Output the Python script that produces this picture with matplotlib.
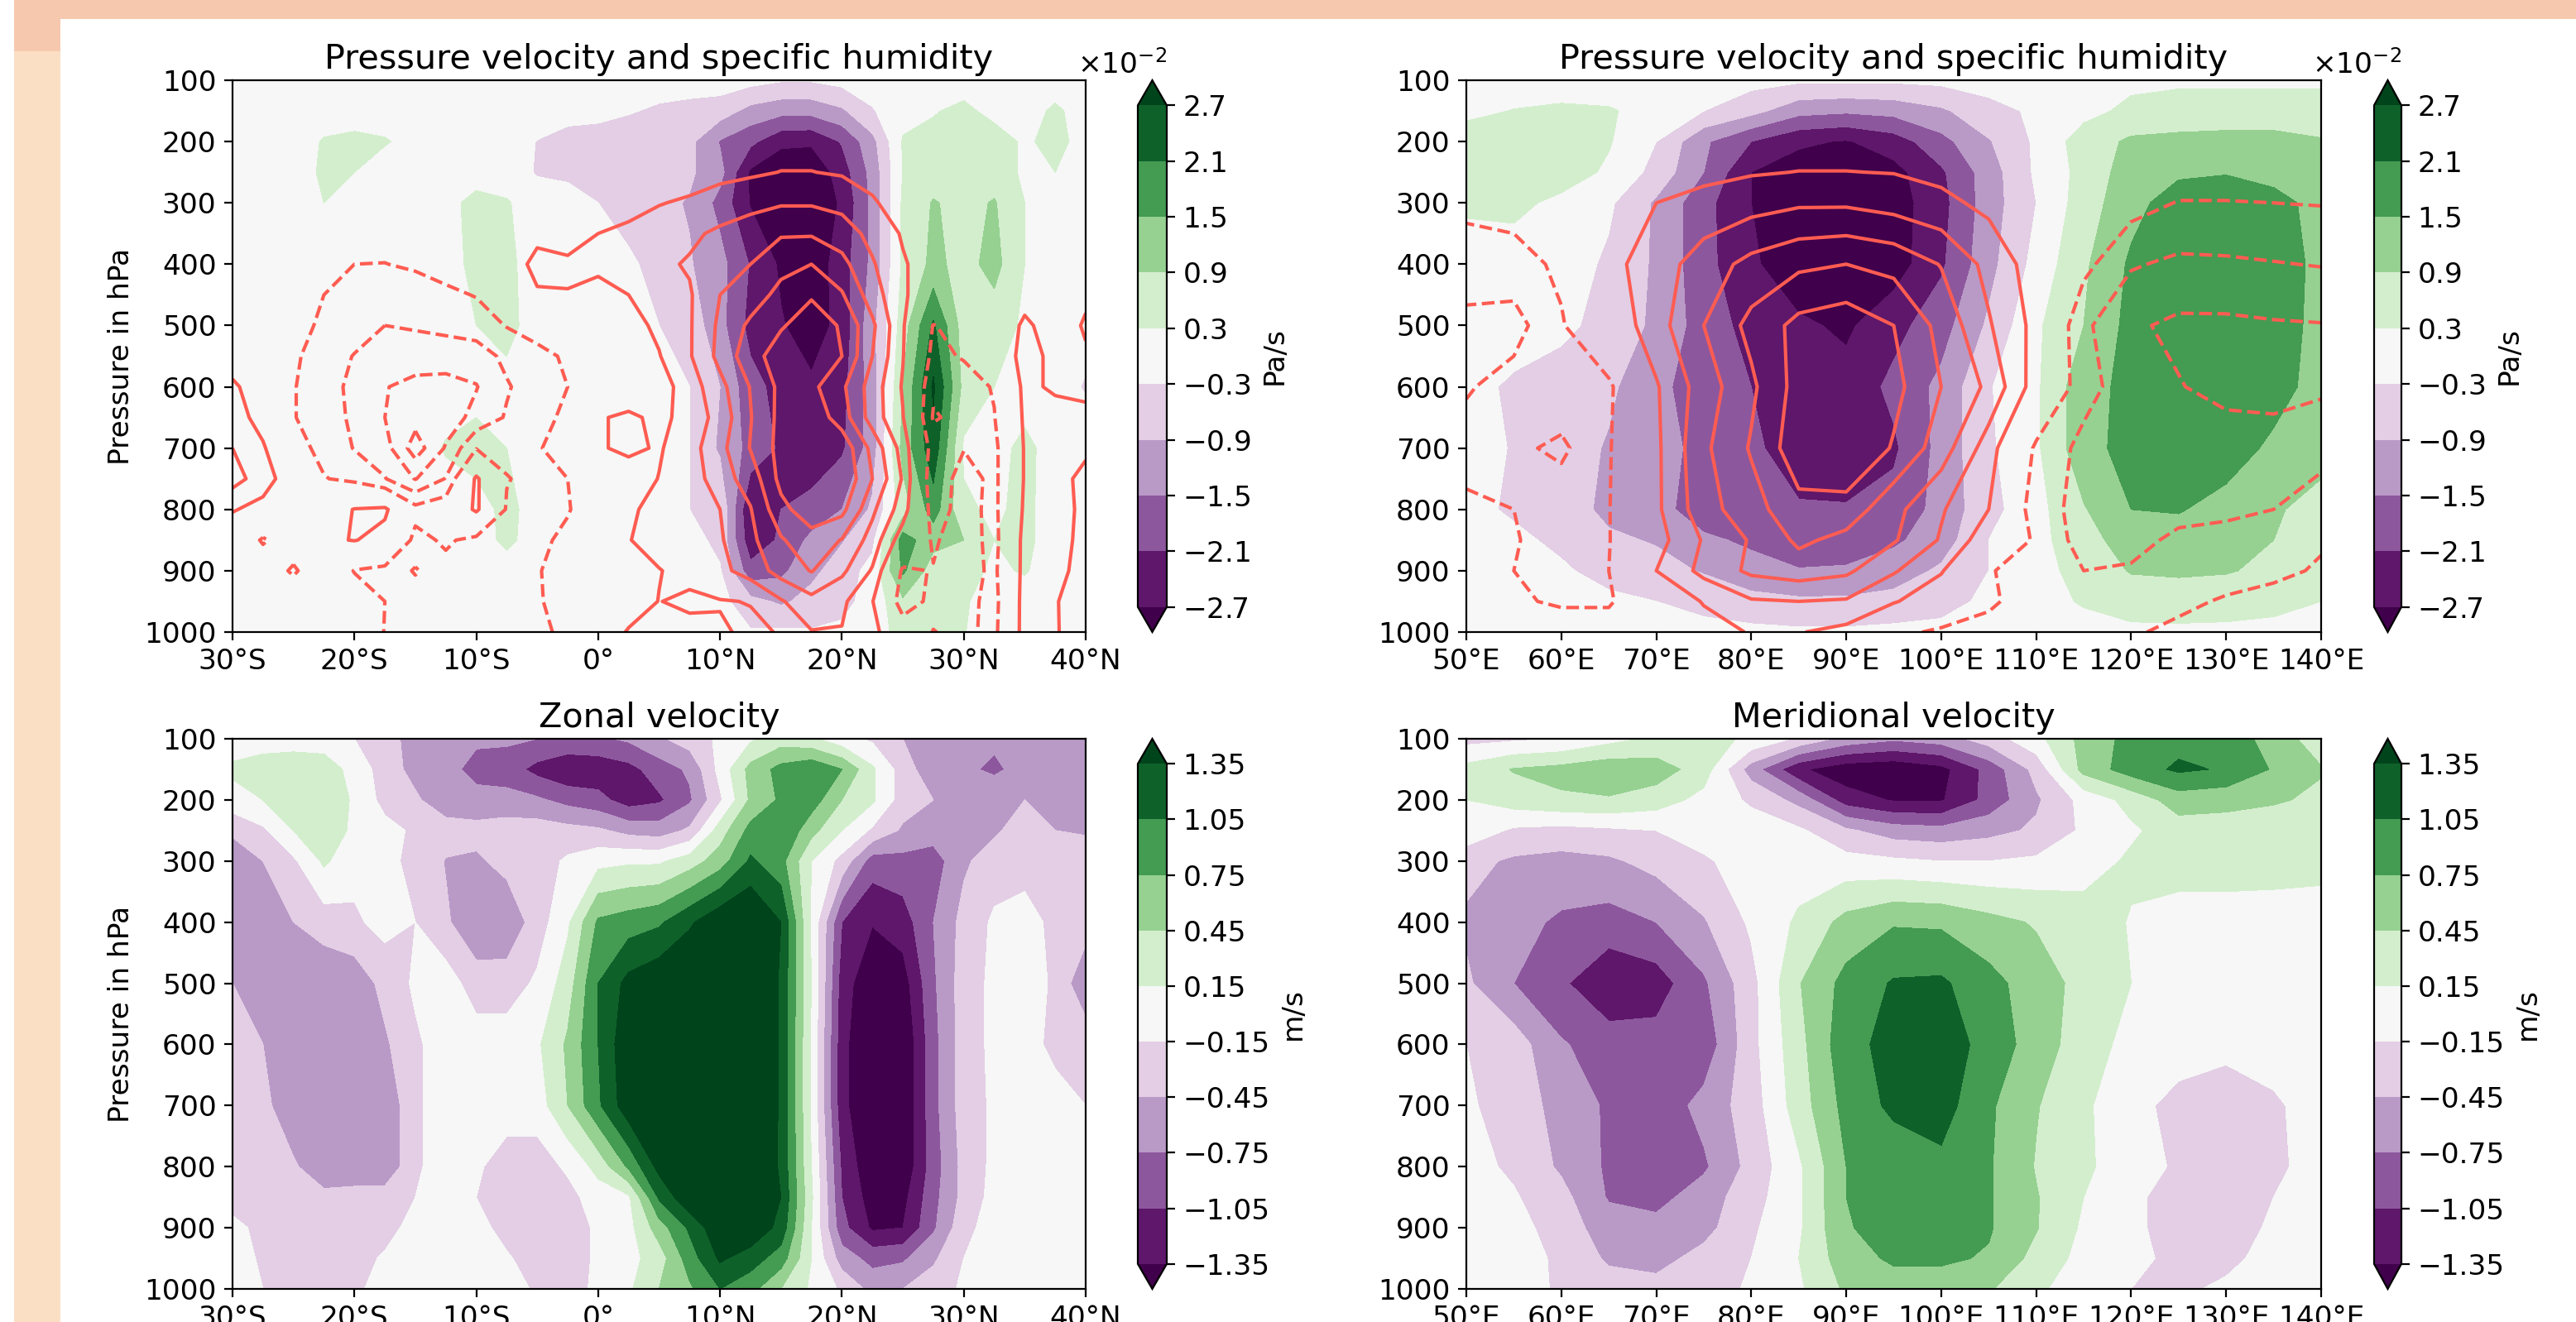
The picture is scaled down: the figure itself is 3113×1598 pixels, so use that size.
import numpy as np
import matplotlib
matplotlib.use("Agg")
import matplotlib.pyplot as plt
from matplotlib.patches import Rectangle
from matplotlib.ticker import ScalarFormatter

W, H = 3113, 1598

lat = [-30, -27.5, -25, -22.5, -20, -17.5, -15, -12.5, -10, -7.5, -5, -2.5, 0, 2.5, 5, 7.5, 10,
       12.5, 15, 17.5, 20, 22.5, 25, 27.5, 30, 32.5, 35, 37.5, 40]
lon = [50, 55, 60, 65, 70, 75, 80, 85, 90, 95, 100, 105, 110, 115, 120, 125, 130, 135, 140]
plev = [100, 150, 200, 250, 300, 400, 500, 600, 700, 800, 850, 900, 950, 1000]
plev_q = [100, 200, 250, 300, 350, 400, 450, 500, 550, 600, 650, 700, 750, 800, 850, 900, 950, 1000]

lat_ticks = [-30, -20, -10, 0, 10, 20, 30, 40]
lat_labels = ["30°S", "20°S", "10°S", "0°", "10°N", "20°N", "30°N", "40°N"]
lon_ticks = [50, 60, 70, 80, 90, 100, 110, 120, 130, 140]
lon_labels = ["50°E", "60°E", "70°E", "80°E", "90°E", "100°E", "110°E", "120°E", "130°E", "140°E"]
p_ticks = [100, 200, 300, 400, 500, 600, 700, 800, 900, 1000]

omega_levels = [-2.7e-2, -2.1e-2, -1.5e-2, -0.9e-2, -0.3e-2, 0.3e-2, 0.9e-2, 1.5e-2, 2.1e-2, 2.7e-2]
wind_levels = [-1.35, -1.05, -0.75, -0.45, -0.15, 0.15, 0.45, 0.75, 1.05, 1.35]
q_levels = [-4, -3, -2, -1, 1, 2, 3, 4, 5]

# pressure velocity along the latitude section, in 1e-2 Pa/s
omega_lat = [
    [0, 0, 0, 0, 0, 0, 0, 0, 0, 0, 0, 0, 0, 0, 0, 0, 0, -.1, -.25, -.25, -.1, 0, 0, 0, 0, 0, 0, 0, 0],
    [0, 0, 0, 0, 0, 0, 0, 0, 0, 0, 0, -.05, -.1, -.25, -.4, -.5, -.6, -1.1, -1.3, -1.3, -1.0, -.35, .1, .25, .45, .1, .05, .4, .05],
    [0, 0, 0, .35, .45, .35, .1, 0, 0, 0, -.32, -.55, -.6, -.65, -.7, -.75, -1.55, -1.95, -2.55, -2.6, -2.05, -1.1, .35, .5, .55, .6, .2, .5, .05],
    [0, 0, 0, .4, .3, 0, 0, 0, 0, 0, -.35, -.4, -.45, -.65, -.75, -.8, -1.3, -2.8, -3.2, -3.2, -2.4, -1.3, .32, .55, .6, .6, .2, .3, .05],
    [0, 0, 0, .3, 0, 0, 0, .1, .5, .35, 0, -.1, -.3, -.55, -.75, -.95, -1.7, -2.75, -3.2, -3.3, -2.6, -1.35, .4, .95, .7, .95, .3, 0, 0],
    [0, 0, 0, 0, 0, 0, 0, 0, .5, .45, 0, 0, -.05, -.2, -.5, -.85, -1.3, -2.15, -2.8, -3.1, -2.4, -1.35, .4, 1.05, .7, 1.1, .3, .05, 0],
    [0, 0, 0, 0, 0, 0, 0, 0, .3, .5, 0, 0, 0, -.1, -.3, -.55, -1.3, -2.3, -2.65, -3.0, -2.5, -1.1, .6, 2.2, .6, .6, .2, 0, -.1],
    [0, 0, 0, 0, 0, 0, 0, 0, 0, .1, 0, 0, 0, 0, -.1, -.3, -.9, -1.9, -2.3, -2.6, -2.3, -1.2, .9, 2.8, .7, .3, 0, -.05, -.35],
    [0, 0, 0, 0, 0, 0, 0, .35, .6, .3, 0, 0, 0, 0, -.1, -.3, -1.0, -1.7, -2.2, -2.5, -2.2, -1.2, 1.1, 2.5, .2, .1, .45, .05, 0],
    [0, 0, 0, 0, 0, 0, 0, 0, 0, .5, 0, 0, 0, 0, -.05, -.3, -.35, -2.7, -2.1, -1.9, -1.5, -.8, .6, 1.8, .4, .2, .45, 0, 0],
    [0, 0, 0, 0, 0, 0, 0, 0, 0, .45, 0, 0, 0, 0, 0, -.1, -.45, -2.5, -2.0, -1.35, -.95, -.45, 1.8, 1.1, .9, .3, .45, 0, 0],
    [0, 0, 0, 0, 0, 0, 0, 0, 0, 0, 0, 0, 0, 0, 0, 0, -.25, -1.9, -1.65, -1.05, -.6, -.1, 1.6, .6, .5, .2, .35, 0, 0],
    [0, 0, 0, 0, 0, 0, 0, 0, 0, 0, 0, 0, 0, 0, 0, 0, -.1, -.7, -1.0, -.7, -.45, -.1, .8, .5, .35, .1, 0, 0, 0],
    [0, 0, 0, 0, 0, 0, 0, 0, 0, 0, 0, 0, 0, 0, 0, 0, 0, -.25, -.2, -.25, -.2, .1, .45, .4, .32, .05, 0, 0, 0],
]

# specific humidity along the latitude section
q_lat = [
    [0] * 29,
    [0, 0, 0, 0, 0, 0, 0, 0, 0, 0, 0, 0, 0, .1, .15, .2, .3, .45, .6, .6, .45, .3, .1, 0, 0, 0, 0, 0, 0],
    [0, 0, 0, 0, 0, 0, 0, 0, 0, 0, 0, 0, .1, .2, .3, .5, .75, .85, 1.02, 1.02, .9, .7, .3, .1, 0, 0, 0, 0, 0],
    [0, 0, 0, 0, 0, 0, 0, 0, 0, 0, 0, .05, .2, .6, .95, 1.15, 1.4, 1.7, 1.9, 1.9, 1.7, 1.1, .6, .2, 0, 0, 0, 0, 0],
    [0, -.1, -.2, -.4, -.6, -.6, -.5, -.4, -.2, 0, .65, .5, 1.0, 1.25, 1.5, 1.8, 2.2, 2.5, 2.9, 2.9, 2.5, 1.7, .9, .4, 0, 0, 0, 0, 0],
    [0, -.2, -.4, -.8, -1.0, -1.02, -.85, -.6, -.3, .2, 1.4, 1.2, 1.3, 1.5, 1.8, 2.1, 2.5, 3.0, 3.7, 4.0, 3.3, 2.1, 1.1, .5, 0, 0, 0, 0, 0],
    [0, .3, -.2, -1.0, -1.3, -1.4, -1.5, -1.2, -.95, -.4, .85, .95, .55, 1.0, 1.4, 1.9, 3.0, 3.5, 4.3, 4.9, 4.1, 2.5, 1.1, .5, 0, 0, .6, .4, .85],
    [0, .2, -.6, -1.2, -1.5, -2.0, -1.9, -1.7, -1.5, -.95, -.7, -.5, -.1, .65, 1.2, 1.9, 3.2, 4.2, 4.9, 5.5, 4.9, 3.2, 1.1, -1.05, -.6, .1, 1.2, .5, 1.1],
    [.1, -.3, -.85, -1.45, -2.05, -2.3, -2.5, -2.6, -2.5, -1.75, -1.2, -.9, -.2, .4, .95, 1.9, 3.3, 4.6, 5.5, 5.9, 5.0, 3.0, 1.05, -1.3, -.9, .3, 1.3, .8, .9],
    [1.3, 0, -.95, -1.5, -2.3, -2.95, -3.3, -3.3, -3.05, -2.1, -1.45, -1.0, -.2, .2, .55, 1.5, 2.7, 4.05, 5.25, 5.25, 4.2, 2.55, .9, -1.8, -1.55, -.9, 1.3, .8, .8],
    [1.6, .5, -.95, -1.5, -2.2, -3.0, -3.6, -3.5, -2.7, -1.9, -1.4, -.75, .9, 1.2, .75, 1.35, 2.4, 3.95, 5.3, 5.7, 4.5, 2.55, 1.05, -2.1, -1.7, -1.05, 1.2, 1.5, 1.2],
    [2.0, 1.15, -.6, -1.3, -2.05, -2.6, -4.5, -2.9, -1.05, -1.3, -1.1, -.5, .9, 1.2, .9, 1.6, 2.7, 4.05, 5.35, 6.0, 5.7, 3.7, 1.6, -1.5, -1.05, -1.3, 1.1, 1.1, 1.1],
    [2.4, 1.5, .3, -.95, -1.25, -1.95, -3.05, -1.95, 1.2, -.95, -1.3, -1.0, .1, .5, 1.03, 1.4, 2.6, 3.4, 5.3, 6.0, 5.9, 4.0, 1.9, -1.8, -.5, -1.3, 1.1, 1.2, .85],
    [1.08, .65, .2, .3, 1.05, 1.2, -.65, -.3, 1.2, -1.1, -1.5, -1.1, -.1, .75, 1.5, 1.8, 2.0, 2.95, 4.7, 5.6, 5.3, 3.2, 1.5, -1.5, -.6, -1.3, 1.2, 1.35, .8],
    [.2, -1.15, -.2, .8, 1.05, .6, -1.3, -.85, -1.3, -1.3, -1.3, -.7, 0, .95, 1.5, 1.6, 1.9, 2.75, 3.9, 4.6, 3.95, 2.6, .4, -1.15, -.4, -1.4, 1.4, 1.4, .7],
    [.1, -.1, -1.2, .1, -1.05, -1.3, -2.1, -1.3, -1.3, -1.3, -1.1, -.4, 0, .6, .95, 1.4, 1.75, 2.4, 3.4, 4.05, 3.2, 1.9, -1.2, -.95, -.5, -1.25, 1.4, 1.4, .5],
    [0, 0, 0, 0, -.4, -1.0, -1.4, -1.3, -1.2, -1.2, -1.15, -.4, .2, .4, 1.03, .75, .95, 1.03, 1.9, 2.7, 2.2, 1.05, -1.6, -.7, -.6, -1.4, 1.5, 1.05, .6],
    [0, 0, 0, 0, -.5, -1.02, -1.2, -1.2, -1.2, -1.2, -1.2, -.8, .2, 1.1, 1.4, 1.4, 1.1, .85, 1.05, 1.95, 1.95, 1.4, -.3, -1.03, -.75, -1.3, 1.5, 1.03, .8],
]

# pressure velocity along the longitude section, in 1e-2 Pa/s
omega_lon = [
    [0, 0, 0, 0, 0, -.05, -.1, -.2, -.2, -.2, -.15, -.05, 0, .05, .15, .2, .2, .2, .2],
    [.15, .32, .4, .35, .1, -.3, -.7, -1.3, -1.4, -1.3, -1.0, -.5, -.2, .1, .45, .55, .55, .55, .55],
    [.6, .7, .6, .35, -.3, -1.4, -2.1, -2.6, -2.75, -2.4, -1.7, -.95, -.2, .6, 1.0, 1.05, 1.1, 1.1, .95],
    [.7, .75, .6, .2, -.5, -1.5, -2.7, -3.0, -3.2, -2.9, -2.2, -1.2, -.2, .5, 1.2, 1.4, 1.45, 1.3, 1.2],
    [.4, .45, .15, -.2, -1.0, -1.9, -2.7, -3.2, -3.3, -3.0, -2.3, -1.2, -.3, .6, 1.3, 1.8, 2.0, 1.7, 1.3],
    [0, 0, 0, -.4, -1.0, -1.9, -2.6, -3.1, -3.2, -3.0, -2.2, -1.1, -.1, .8, 1.6, 2.0, 2.05, 1.9, 1.3],
    [0, 0, -.1, -.6, -1.0, -1.8, -2.3, -2.6, -2.8, -2.3, -1.75, -.8, .2, .9, 1.7, 2.0, 2.05, 1.9, 1.25],
    [-.1, -.4, -.7, -.8, -1.3, -1.9, -2.1, -2.4, -2.5, -1.95, -1.35, -.35, .2, 1.3, 1.65, 1.95, 2.0, 1.8, 1.2],
    [0, -.35, -.65, -.95, -1.25, -1.7, -2.0, -2.35, -2.5, -2.2, -1.3, -.4, .2, 1.3, 1.7, 1.9, 1.85, 1.35, 1.05],
    [-.1, -.4, -.6, -1.05, -1.3, -1.8, -2.0, -2.05, -2.05, -1.9, -1.3, -.5, .1, .85, 1.5, 1.55, 1.25, .95, .75],
    [0, -.15, -.45, -.8, -.95, -1.4, -1.6, -2.0, -1.95, -1.6, -1.2, -.3, .1, .7, 1.15, 1.2, 1.1, .9, .55],
    [0, 0, -.2, -.55, -.7, -.95, -1.3, -1.45, -1.4, -1.2, -.8, -.3, .15, .45, .95, 1.0, .95, .75, .5],
    [0, 0, 0, -.15, -.3, -.5, -.7, -.8, -.8, -.7, -.55, -.15, .1, .35, .5, .55, .5, .4, .3],
    [0, 0, 0, 0, 0, -.1, -.15, -.2, -.2, -.15, -.1, 0, 0, .1, .2, .2, .2, .2, .2],
]

# specific humidity along the longitude section
q_lon = [
    [0] * 19,
    [0, 0, 0, 0, .05, .1, .15, .2, .2, .2, .15, .1, .05, 0, -.05, -.05, -.05, -.05, -.05],
    [-.2, -.2, -.1, 0, .15, .3, .45, .55, .55, .5, .4, .25, .1, 0, -.1, -.15, -.15, -.15, -.15],
    [-.6, -.5, -.3, 0, .2, .75, .92, 1.02, 1.02, .97, .75, .5, .2, -.1, -.3, -.4, -.4, -.4, -.4],
    [-.7, -.6, -.3, .3, 1.0, 1.3, 1.6, 1.85, 1.85, 1.6, 1.25, .75, .35, 0, -.6, -1.05, -1.05, -1.0, -.95],
    [-1.6, -1.4, -.8, .7, 1.5, 2.5, 3.3, 3.8, 4.0, 3.7, 2.95, 1.7, .5, -.7, -1.9, -2.2, -2.15, -2.05, -1.95],
    [-2.2, -2.4, -1.1, .2, 1.6, 3.0, 4.3, 5.3, 5.6, 5.0, 3.7, 2.1, .7, -1.8, -2.85, -3.2, -3.2, -3.1, -3.05],
    [-2.1, -1.6, -1.3, -1.2, .9, 2.5, 3.8, 5.4, 5.9, 5.3, 4.0, 2.8, .5, -1.6, -2.6, -2.95, -3.3, -3.4, -3.2],
    [-1.6, -1.8, -2.2, -1.1, .8, 2.8, 4.1, 5.6, 6.0, 4.9, 3.5, 1.5, -1.2, -2.3, -2.3, -2.4, -2.5, -2.5, -2.2],
    [-.7, -1.0, -1.4, -1.05, .8, 2.6, 3.6, 4.7, 4.6, 3.3, 2.1, 1.0, -1.6, -2.3, -2.3, -2.3, -2.25, -2.0, -1.7],
    [-.6, -.95, -1.3, -1.05, .6, 2.1, 3.1, 4.2, 3.7, 3.1, 1.9, .4, -1.2, -2.4, -2.3, -1.8, -1.6, -1.4, -1.1],
    [-.3, -1.0, -1.3, -1.0, 1.0, 2.3, 3.2, 3.5, 3.2, 2.1, 1.1, -.9, -1.6, -2.0, -1.9, -1.7, -1.4, -1.2, -.9],
    [-.3, -.9, -1.1, -1.1, -.2, 1.1, 1.9, 2.0, 1.9, 1.1, .2, -.9, -1.3, -1.4, -1.3, -1.2, -.9, -.7, -.6],
    [0, -.4, -.6, -.6, -.2, .4, 1.1, 1.05, .7, -.7, -1.2, -1.2, -1.2, -1.2, -1.1, -.8, -.6, -.5, -.4],
]

# zonal velocity, m/s
zonal = [
    [0, 0, 0, 0, -.15, -.4, -.5, -.6, -.7, -.7, -.75, -.8, -.8, -.7, -.5, -.3, -.1, .1, .3, .2, -.05, -.2, -.45, -.6, -.65, -.7, -.65, -.6, -.6],
    [.2, .3, .35, .3, .05, -.3, -.55, -.65, -.85, -.9, -1.15, -1.3, -1.25, -1.15, -.9, -.7, -.05, .55, .85, 1.0, .75, .2, -.3, -.65, -.7, -.8, -.65, -.7, -.6],
    [.05, .15, .4, .4, .1, -.25, -.4, -.65, -.65, -.65, -.7, -.85, -.95, -1.2, -1.1, -.8, -.2, .5, .8, .9, .45, .2, -.3, -.45, -.55, -.55, -.45, -.65, -.65],
    [-.42, -.2, .15, .3, .1, -.05, -.2, -.3, -.35, -.3, -.3, -.35, -.4, -.55, -.6, -.4, .3, .85, 1.05, .55, .15, -.2, -.5, -.6, -.6, -.5, -.3, -.45, -.48],
    [-.55, -.45, -.2, .2, -.05, -.1, -.2, -.47, -.5, -.35, -.3, -.1, .05, .1, .1, .3, .6, 1.1, .85, .15, -.25, -.9, -.85, -.9, -.5, -.3, -.3, -.3, -.3],
    [-.6, -.55, -.45, -.3, -.2, -.05, -.15, -.4, -.7, -.68, -.3, .1, .8, .9, 1.0, 1.3, 1.6, 1.7, 1.35, .1, -1.05, -1.33, -1.2, -.75, -.35, -.1, 0, -.25, -.3],
    [-.45, -.7, -.7, -.7, -.65, -.35, -.1, 0, -.3, -.3, -.1, .3, 1.05, 1.45, 1.6, 1.7, 1.8, 1.8, 1.3, .15, -1.2, -1.6, -1.5, -.8, -.3, -.08, 0, -.2, -.7],
    [-.2, -.45, -.7, -.7, -.7, -.5, -.2, 0, 0, 0, .1, .5, 1.05, 1.6, 1.8, 1.85, 1.9, 1.8, 1.3, .1, -1.25, -1.7, -1.65, -.85, -.3, -.08, 0, -.25, -.25],
    [-.2, -.35, -.7, -.72, -.72, -.7, -.2, 0, 0, 0, 0, .45, 1.0, 1.55, 1.85, 1.9, 1.9, 1.8, 1.3, .1, -1.25, -1.7, -1.65, -.85, -.3, -.1, 0, 0, -.15],
    [-.3, -.35, -.4, -.7, -.72, -.7, -.2, 0, -.1, -.3, -.3, -.1, .25, .8, 1.45, 1.7, 1.8, 1.75, 1.3, .15, -1.1, -1.6, -1.6, -.9, -.35, -.08, 0, -.05, -.05],
    [-.3, -.4, -.4, -.35, -.3, -.3, -.15, 0, -.15, -.4, -.4, -.25, 0, .1, 1.1, 1.6, 1.8, 1.7, 1.35, .2, -1.05, -1.5, -1.45, -.85, -.35, -.05, 0, 0, 0],
    [-.05, -.25, -.35, -.35, -.35, -.3, 0, 0, 0, -.3, -.4, -.3, -.1, .05, .6, 1.1, 1.6, 1.6, 1.25, .15, -.95, -1.4, -1.35, -.8, -.25, 0, 0, 0, 0],
    [0, -.2, -.3, -.3, -.3, -.1, -.05, 0, 0, -.1, -.35, -.3, -.1, .05, .3, .9, 1.4, 1.2, .9, .15, -.6, -.85, -.8, -.5, -.15, 0, 0, 0, 0],
    [0, -.15, -.25, -.3, -.2, -.05, 0, 0, 0, 0, -.2, -.25, -.1, .1, .45, .7, 1.05, .85, .45, .1, -.2, -.55, -.45, -.3, -.1, 0, 0, 0, 0],
]

# meridional velocity, m/s
meridional = [
    [-.25, -.2, -.15, .05, .2, .25, .1, -.2, -.55, -.7, -.6, -.3, .05, .55, .85, .95, .95, .6, .3],
    [.25, .47, .55, .65, .6, .3, -.6, -1.3, -1.55, -1.6, -1.45, -.95, -.35, .55, .9, 1.1, 1.02, .72, .47],
    [.15, .3, .4, .42, .3, .05, -.2, -.55, -1.2, -1.38, -1.38, -.95, -.5, -.05, .25, .6, .55, .48, .4],
    [.05, -.2, -.25, -.2, -.15, -.05, 0, -.1, -.4, -.6, -.65, -.55, -.4, -.1, .1, .3, .3, .3, .25],
    [-.35, -.5, -.55, -.5, -.35, -.18, -.05, 0, -.05, -.1, -.15, -.15, -.1, 0, .2, .3, .3, .28, .25],
    [-.5, -.65, -.8, -.87, -.75, -.48, -.1, .2, .55, .72, .7, .55, .42, .3, .13, 0, 0, 0, 0],
    [-.4, -.75, -1.0, -1.3, -1.2, -.8, -.25, .43, .85, 1.08, 1.1, .85, .6, .35, .15, 0, 0, 0, 0],
    [-.15, -.3, -.72, -.9, -.93, -.95, -.25, .35, .95, 1.15, 1.2, .95, .6, .3, .05, 0, -.05, 0, 0],
    [-.1, -.3, -.55, -.8, -.95, -.65, -.3, .3, .85, 1.12, 1.18, .8, .47, .2, -.05, -.25, -.35, -.2, 0],
    [-.05, -.2, -.5, -.8, -.9, -.8, -.35, .1, .75, .85, .98, .78, .43, .2, 0, -.2, -.3, -.2, -.05],
    [-.03, -.12, -.35, -.78, -.85, -.6, -.28, .1, .75, .85, .88, .78, .47, .15, -.1, -.25, -.3, -.15, 0],
    [0, -.03, -.3, -.6, -.65, -.55, -.2, .1, .73, .85, .88, .78, .47, .1, -.1, -.25, -.3, -.1, 0],
    [0, -.03, -.2, -.5, -.55, -.35, -.15, .15, .62, .8, .8, .72, .35, .05, -.1, -.2, -.22, -.05, 0],
    [0, 0, -.2, -.3, -.35, -.25, -.12, .1, .5, .6, .6, .48, .2, 0, -.15, -.2, -.1, 0, 0],
]


def section(box, x, xticks, xlabels, field, levels, title, unit, ylab, cbar_x, q=None, q_p=None, scale=1.0):
    left, top, right, bottom = box
    ax = fig.add_axes([left / W, 1 - bottom / H, (right - left) / W, (bottom - top) / H])
    cf = ax.contourf(x, plev, np.array(field) * scale, levels=levels, cmap="PRGn", extend="both")
    if q is not None:
        ax.contour(x, q_p, np.array(q), levels=q_levels, colors="#ff5c52", linewidths=1.5)
    ax.set_ylim(1000, 100)
    ax.set_xlim(x[0], x[-1])
    ax.set_yticks(p_ticks)
    ax.set_xticks(xticks)
    ax.set_xticklabels(xlabels)
    ax.set_title(title, pad=5, fontsize=14.9)
    if ylab:
        ax.set_ylabel("Pressure in hPa")
    cax = fig.add_axes([cbar_x[0] / W, 1 - bottom / H, (cbar_x[1] - cbar_x[0]) / W, (bottom - top) / H])
    cb = fig.colorbar(cf, cax=cax, ticks=levels)
    cb.set_label(unit)
    if scale != 1.0:
        fmt = ScalarFormatter(useMathText=True)
        fmt.set_powerlimits((-2, -2))
        cb.ax.yaxis.set_major_formatter(fmt)
    return ax


plt.rcParams["font.size"] = 12.4
fig = plt.figure(figsize=(W / 200, H / 200), dpi=200, facecolor="white")

# page decoration behind the figure
for x0, y0, w0, h0, col in [(17, 62, 56, 1536, "#fbdfc5"), (17, 0, 3096, 23, "#f6c9af"), (17, 0, 56, 62, "#f6c9af")]:
    fig.add_artist(Rectangle((x0 / W, 1 - (y0 + h0) / H), w0 / W, h0 / H, transform=fig.transFigure,
                             facecolor=col, edgecolor="none", zorder=-5))

section((281, 97, 1312, 764), lat, lat_ticks, lat_labels, omega_lat, omega_levels,
        "Pressure velocity and specific humidity", "Pa/s", True, (1375, 1410), q=q_lat, q_p=plev_q, scale=1e-2)
section((1772, 97, 2805, 764), lon, lon_ticks, lon_labels, omega_lon, omega_levels,
        "Pressure velocity and specific humidity", "Pa/s", False, (2869, 2902), q=q_lon, q_p=plev, scale=1e-2)
section((281, 893, 1312, 1558), lat, lat_ticks, lat_labels, zonal, wind_levels,
        "Zonal velocity", "m/s", True, (1375, 1410))
section((1772, 893, 2805, 1558), lon, lon_ticks, lon_labels, meridional, wind_levels,
        "Meridional velocity", "m/s", False, (2869, 2902))

fig.savefig("out.png", dpi=200)
